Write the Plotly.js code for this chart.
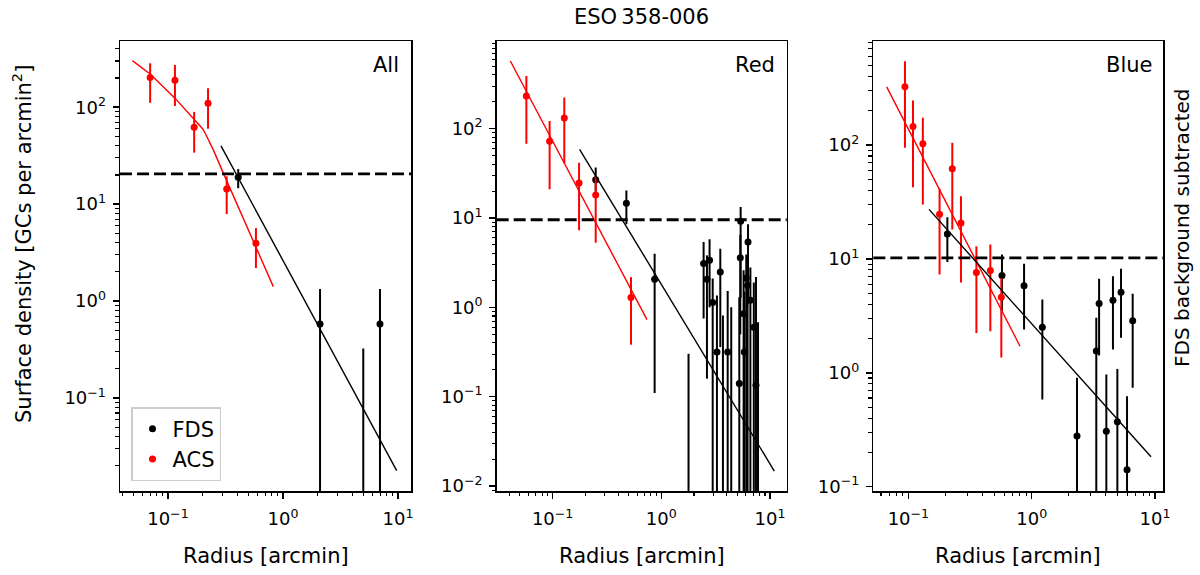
<!DOCTYPE html>
<html>
<head>
<meta charset="utf-8">
<script src="https://cdn.plot.ly/plotly-3.0.1.min.js"></script>
<style>
    html, body {margin: 0; padding: 0; background: #fff;}
    #plot {width: 1200px; height: 575px;}
</style>
</head>
<body>
<div id="plot"></div>
<script>
// ---- data (radius in arcmin, density in GCs / arcmin^2) ----
// lower bound 0 means the error bar runs off the bottom of the axis

// panel "All"
var allAcsR = [0.070, 0.115, 0.169, 0.223, 0.324, 0.582];
var allAcsD = [202, 190, 62, 110, 14.3, 3.96];
var allAcsHi = [284, 273, 89.5, 157, 19.3, 5.66];
var allAcsLo = [111, 103, 34, 60, 7.9, 2.19];

var allFdsR = [0.408, 2.10, 4.99, 6.97];
var allFdsD = [19.0, 0.58, 0.004, 0.58];
var allFdsHi = [23, 1.33, 0.325, 1.33];
var allFdsLo = [14.6, 0, 0, 0];

var allAcsFitR = [0.049, 0.070, 0.115, 0.169, 0.200, 0.214, 0.248, 0.303, 0.824];
var allAcsFitD = [302, 220, 124, 74, 60, 52, 36.3, 20.9, 1.41];
var allFdsFitR = [0.289, 9.74];
var allFdsFitD = [39.9, 0.0178];
var allBackground = 20.5;

// panel "Red"
var redAcsR = [0.0573, 0.0938, 0.128, 0.175, 0.249, 0.526];
var redAcsD = [232, 72.3, 132, 24.7, 18.1, 1.29];
var redAcsHi = [389, 122, 223, 41.7, 29.5, 2.18];
var redAcsLo = [68, 21, 41, 7.3, 5.3, 0.382];

var redFdsR = [0.249, 0.477, 0.868, 1.78, 2.45, 2.63, 2.78, 2.97, 3.25, 3.49, 3.69, 4.08, 4.40,
    5.22, 5.33, 5.37, 5.72, 5.80, 6.05, 6.22, 6.28, 6.60, 7.10, 7.43, 7.76];
var redFdsD = [26.9, 14.6, 2.07, 0.004, 3.09, 2.06, 3.36, 1.13, 0.316, 2.48, 0.004, 0.316, 0.004,
    0.14, 3.6, 9.18, 0.85, 0.316, 2.13, 1.76, 5.38, 1.2, 0.6, 0.134, 0.004];
var redFdsHi = [36.7, 20.4, 3.99, 0.303, 5.4, 3.82, 5.77, 2.10, 1.36, 4.54, 0.81, 1.52, 1.0,
    1.30, 6.5, 13.3, 2.6, 1.5, 3.9, 3.5, 8.5, 2.8, 1.9, 2.18, 0.68];
var redFdsLo = [20, 8.5, 0.11, 0, 0.75, 0.159, 1.0, 0, 0, 0.359, 0, 0, 0,
    0, 0.5, 1.28, 0, 0, 0, 0, 1.1, 0, 0, 0, 0];

var redAcsFitR = [0.0408, 0.738];
var redAcsFitD = [573, 0.728];
var redFdsFitR = [0.177, 10.96];
var redFdsFitD = [58.8, 0.0147];
var redBackground = 9.57;

// panel "Blue"
var blueAcsR = [0.0938, 0.109, 0.131, 0.179, 0.227, 0.267, 0.356, 0.462, 0.567];
var blueAcsD = [324, 145, 102.5, 24.7, 61.8, 20.7, 7.6, 7.9, 4.6];
var blueAcsHi = [544, 246, 173, 41.2, 104.5, 35.5, 12.9, 13.4, 6.8];
var blueAcsLo = [94.5, 42.6, 30, 7.3, 18.1, 6.2, 2.24, 2.32, 1.36];

var blueFdsR = [0.207, 0.574, 0.867, 1.22, 2.33, 3.34, 3.52, 4.03, 4.56, 4.95, 5.30, 5.93, 6.59];
var blueFdsD = [16.5, 7.15, 5.8, 2.51, 0.278, 1.55, 4.06, 0.307, 4.34, 0.371, 5.1, 0.141, 2.86];
var blueFdsHi = [23.2, 10.9, 9.06, 4.4, 0.904, 3.04, 6.69, 0.966, 7.05, 1.08, 8.2, 0.623, 4.94];
var blueFdsLo = [9.4, 3.5, 2.4, 0.583, 0, 0, 1.42, 0, 1.6, 0, 2.03, 0, 0.738];

var blueAcsFitR = [0.0667, 0.804];
var blueAcsFitD = [324, 1.71];
var blueFdsFitR = [0.147, 9.28];
var blueFdsFitD = [27.2, 0.183];
var blueBackground = 10.2;

var panelNames = ['All', 'Red', 'Blue'];
var xTickVals = [0.1, 1, 10];
var xTickText = ['10<sup>\u22121</sup>', '10<sup>0</sup>', '10<sup>1</sup>'];
var yTickValsAll = [0.1, 1, 10, 100];
var yTickTextAll = ['10<sup>\u22121</sup>', '10<sup>0</sup>', '10<sup>1</sup>', '10<sup>2</sup>'];
var yTickValsRed = [0.01, 0.1, 1, 10, 100];
var yTickTextRed = ['10<sup>\u22122</sup>', '10<sup>\u22121</sup>', '10<sup>0</sup>', '10<sup>1</sup>', '10<sup>2</sup>'];

var FONT = 'DejaVu Sans, Liberation Sans, sans-serif';

function minorVals(lo, hi) {
    var out = [];
    for (var p = lo; p <= hi; p++) {
        for (var k = 2; k < 10; k++) out.push(k * Math.pow(10, p));
    }
    return out;
}

function points(name, color, r, d, hi, lo, axis, legend) {
    return {
        type: 'scatter', mode: 'markers', name: name,
        x: r, y: d,
        xaxis: 'x' + axis, yaxis: 'y' + axis,
        showlegend: legend, legendgroup: name,
        marker: {color: color, size: 7},
        error_y: {
            type: 'data', symmetric: false,
            array: hi.map(function (h, i) { return h - d[i]; }),
            arrayminus: lo.map(function (l, i) { return d[i] - l; }),
            color: color, thickness: 2, width: 0
        }
    };
}

function fit(color, r, d, axis) {
    return {
        type: 'scatter', mode: 'lines', x: r, y: d,
        xaxis: 'x' + axis, yaxis: 'y' + axis, showlegend: false,
        line: {color: color, width: 1.4}, hoverinfo: 'skip'
    };
}

var traces = [
    points('FDS', 'black', allFdsR, allFdsD, allFdsHi, allFdsLo, '', true),
    points('ACS', 'red', allAcsR, allAcsD, allAcsHi, allAcsLo, '', true),
    fit('red', allAcsFitR, allAcsFitD, ''),
    fit('black', allFdsFitR, allFdsFitD, ''),

    points('FDS', 'black', redFdsR, redFdsD, redFdsHi, redFdsLo, '2', false),
    points('ACS', 'red', redAcsR, redAcsD, redAcsHi, redAcsLo, '2', false),
    fit('red', redAcsFitR, redAcsFitD, '2'),
    fit('black', redFdsFitR, redFdsFitD, '2'),

    points('FDS', 'black', blueFdsR, blueFdsD, blueFdsHi, blueFdsLo, '3', false),
    points('ACS', 'red', blueAcsR, blueAcsD, blueAcsHi, blueAcsLo, '3', false),
    fit('red', blueAcsFitR, blueAcsFitD, '3'),
    fit('black', blueFdsFitR, blueFdsFitD, '3')
];

var yDomain = [1 - 491 / 575, 1 - 41 / 575];

function xAxis(domain, range, anchor) {
    return {
        type: 'log', domain: domain, range: range, anchor: anchor,
        tickmode: 'array', tickvals: xTickVals, ticktext: xTickText,
        ticks: 'outside', ticklen: 6, tickwidth: 1.5, tickcolor: 'black',
        minor: {tickmode: 'array', tickvals: minorVals(-2, 1), ticks: 'outside',
            ticklen: 3.5, tickwidth: 1.1, tickcolor: 'black', showgrid: false},
        showline: true, mirror: true, linecolor: 'black', linewidth: 1.5,
        showgrid: false, zeroline: false, ticklabelstandoff: 5,
        tickfont: {family: FONT, size: 18, color: 'black'}
    };
}

function yAxis(range, anchor, vals, text) {
    return {
        type: 'log', domain: yDomain, range: range, anchor: anchor,
        tickmode: 'array', tickvals: vals, ticktext: text,
        ticks: 'outside', ticklen: 6, tickwidth: 1.5, tickcolor: 'black',
        minor: {tickmode: 'array', tickvals: minorVals(-3, 2), ticks: 'outside',
            ticklen: 3.5, tickwidth: 1.1, tickcolor: 'black', showgrid: false},
        showline: true, mirror: true, linecolor: 'black', linewidth: 1.5,
        showgrid: false, zeroline: false, ticklabelstandoff: 3,
        tickfont: {family: FONT, size: 18, color: 'black'}
    };
}

function background(level, axis) {
    return {
        type: 'line', xref: 'x' + axis + ' domain', yref: 'y' + axis,
        x0: 0, x1: 1, y0: level, y1: level,
        line: {color: 'black', width: 2.8, dash: '12px,5px'}
    };
}

var annotations = [];
['', '2', '3'].forEach(function (ax, i) {
    annotations.push({
        xref: 'x' + ax + ' domain', yref: 'y' + ax + ' domain', x: 0.967, y: 0.947,
        xanchor: 'right', yanchor: 'middle', showarrow: false,
        text: panelNames[i], font: {family: FONT, size: 21, color: 'black'}
    });
    annotations.push({
        xref: 'x' + ax + ' domain', yref: 'paper', x: 0.5, y: 1 - 556 / 575,
        xanchor: 'center', yanchor: 'middle', showarrow: false,
        text: 'Radius [arcmin]', font: {family: FONT, size: 21, color: 'black'}
    });
});
annotations.push({
    xref: 'x2 domain', yref: 'paper', x: 0.5, y: 1 - 17 / 575,
    xanchor: 'center', yanchor: 'middle', showarrow: false,
    text: 'ESO\u2009358-006', font: {family: FONT, size: 21, color: 'black'}
});
annotations.push({
    xref: 'paper', yref: 'paper', x: 22 / 1200, y: 1 - 244 / 575,
    xanchor: 'center', yanchor: 'middle', showarrow: false, textangle: -90,
    text: 'Surface density [GCs per arcmin<sup>2</sup>]',
    font: {family: FONT, size: 21, color: 'black'}
});
annotations.push({
    xref: 'paper', yref: 'paper', x: 1182 / 1200, y: 1 - 228 / 575,
    xanchor: 'center', yanchor: 'middle', showarrow: false, textangle: -90,
    text: 'FDS background subtracted',
    font: {family: FONT, size: 20, color: 'black'}
});

var layout = {
    width: 1200, height: 575,
    margin: {l: 0, r: 0, t: 0, b: 0},
    paper_bgcolor: 'white', plot_bgcolor: 'white',
    font: {family: FONT, color: 'black'},
    xaxis: xAxis([0.1, 0.3425], [-1.417, 1.113], 'y'),
    yaxis: yAxis([-1.959, 2.683], 'x', yTickValsAll, yTickTextAll),
    xaxis2: xAxis([0.4139, 0.6556], [-1.515, 1.154], 'y2'),
    yaxis2: yAxis([-2.056, 2.982], 'x2', yTickValsRed, yTickTextRed),
    xaxis3: xAxis([0.7278, 0.9694], [-1.284, 1.067], 'y3'),
    yaxis3: yAxis([-1.038, 2.913], 'x3', yTickValsAll, yTickTextAll),
    shapes: [background(allBackground, ''), background(redBackground, '2'), background(blueBackground, '3')],
    annotations: annotations,
    showlegend: true,
    legend: {
        x: 131 / 1200, y: 1 - 407 / 575, xanchor: 'left', yanchor: 'top',
        bgcolor: 'rgba(255,255,255,0.8)', bordercolor: '#cccccc', borderwidth: 1.5,
        font: {family: FONT, size: 21, color: 'black'},
        itemwidth: 30, tracegroupgap: 0
    }
};

Plotly.newPlot('plot', traces, layout, {staticPlot: true});
</script>
</body>
</html>
